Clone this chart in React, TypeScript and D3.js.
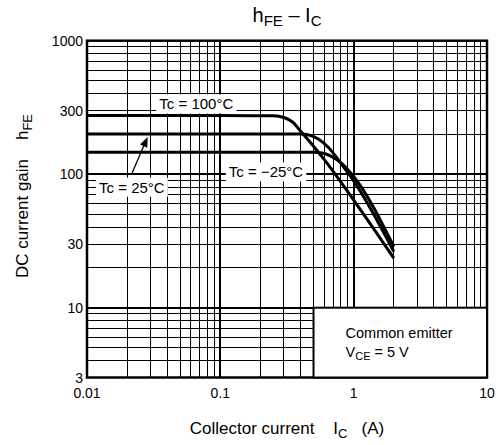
import { useEffect, useRef } from 'react';
import * as d3 from 'd3';

type Pt = [number, number];

// tick values and labels
const xTickValues = [0.01, 0.1, 1, 10];
const xTickLabels = ['0.01', '0.1', '1', '10'];
const yTickValues = [3, 10, 30, 100, 300, 1000];
const yTickLabels = ['3', '10', '30', '100', '300', '1000'];

// hFE curves: [Ic (A), hFE]
const tc100: Pt[] = [
  [0.01, 275], [0.1, 275], [0.25, 274], [0.3, 266], [0.35, 245], [0.4, 210],
  [0.5, 162], [0.6, 129], [1, 64], [2, 23.5],
];
const tc25: Pt[] = [
  [0.01, 200], [0.1, 200], [0.4, 200], [0.47, 196], [0.55, 182], [0.65, 158],
  [0.8, 121], [1, 89], [2, 26.3],
];
const tcM25: Pt[] = [
  [0.01, 146], [0.1, 146], [0.5, 146], [0.58, 144], [0.68, 136], [0.8, 122],
  [1, 96], [2, 28.6],
];

// annotation anchors in data coords
const labelPos: { text: string; at: Pt }[] = [
  { text: 'Tc = 100°C', at: [0.066, 336] },
  { text: 'Tc = 25°C', at: [0.0217, 80] },
  { text: 'Tc = \u221225°C', at: [0.22, 104] },
];
const arrow25: Pt[] = [[0.0215, 99], [0.0285, 190]];

export default function App() {
  const ref = useRef<SVGSVGElement>(null);

  useEffect(() => {
    if (!ref.current) return;
    const W = 500, H = 445;
    const left = 87, right = 487, top = 40.7, bottom = 377.5;
    const font = 'Arial, "Liberation Sans", Helvetica, sans-serif';

    const x = d3.scaleLog().domain([0.01, 10]).range([left, right]);
    const y = d3.scaleLog().domain([3, 1000]).range([bottom, top]);

    const svg = d3.select(ref.current);
    svg.selectAll('*').remove();
    svg.attr('width', W).attr('height', H).attr('viewBox', `0 0 ${W} ${H}`)
      .style('font-family', font);

    svg.append('rect').attr('width', W).attr('height', H).attr('fill', '#fff');

    // grid
    const xGrid: number[] = [];
    for (let d = 0.01; d < 10; d *= 10) for (let k = 1; k < 10; k++) xGrid.push(+(d * k).toPrecision(3));
    const yGrid: number[] = [];
    for (let k = 3; k < 10; k++) yGrid.push(k);
    for (let d = 10; d < 1000; d *= 10) for (let k = 1; k < 10; k++) yGrid.push(d * k);

    const isMajor = (v: number) => Math.abs(Math.log10(v) - Math.round(Math.log10(v))) < 1e-6;
    // snap to the pixel grid so thin lines stay crisp
    const snap = (p: number, major: boolean) => (major ? Math.round(p) : Math.floor(p) + 0.5);

    const grid = svg.append('g');
    grid.selectAll('line.v').data(xGrid.slice(1)).join('line')
      .attr('x1', d => snap(x(d), isMajor(d))).attr('x2', d => snap(x(d), isMajor(d)))
      .attr('y1', top).attr('y2', bottom)
      .attr('stroke', '#000').attr('stroke-width', d => (isMajor(d) ? 2 : 1));
    grid.selectAll('line.h').data(yGrid.slice(1)).join('line')
      .attr('y1', d => snap(y(d), isMajor(d))).attr('y2', d => snap(y(d), isMajor(d)))
      .attr('x1', left).attr('x2', right)
      .attr('stroke', '#000').attr('stroke-width', d => (isMajor(d) ? 2 : 1));

    // frame
    svg.append('rect').attr('x', left).attr('y', top)
      .attr('width', right - left).attr('height', bottom - top)
      .attr('fill', 'none').attr('stroke', '#000').attr('stroke-width', 2.5);

    // legend box
    const lb = svg.append('g');
    lb.append('rect').attr('x', x(0.5)).attr('y', y(10))
      .attr('width', x(10) - x(0.5)).attr('height', y(3) - y(10))
      .attr('fill', '#fff').attr('stroke', '#000').attr('stroke-width', 2);
    lb.append('text').attr('x', x(0.5) + 32).attr('y', y(10) + 30)
      .attr('font-size', 14.5).text('Common emitter');
    const vce = lb.append('text').attr('x', x(0.5) + 32).attr('y', y(10) + 49)
      .attr('font-size', 14.5);
    vce.append('tspan').text('V');
    vce.append('tspan').attr('font-size', 11).attr('dy', 3).text('CE');
    vce.append('tspan').attr('dy', -3).text(' = 5 V');

    // curves
    const line = d3.line<Pt>().x(d => x(d[0])).y(d => y(d[1])).curve(d3.curveMonotoneX);
    svg.selectAll('path.curve').data([tc100, tc25, tcM25]).join('path')
      .attr('class', 'curve')
      .attr('d', d => line(d)!)
      .attr('fill', 'none').attr('stroke', '#000').attr('stroke-width', 3)
      .attr('stroke-linejoin', 'round');

    // annotations with white backing
    labelPos.forEach(l => {
      const g = svg.append('g');
      const t = g.append('text').attr('x', x(l.at[0])).attr('y', y(l.at[1]))
        .attr('text-anchor', 'middle').attr('dominant-baseline', 'central')
        .attr('font-size', 15).text(l.text);
      const bb = (t.node() as SVGTextElement).getBBox();
      g.insert('rect', 'text').attr('x', bb.x - 3).attr('y', bb.y - 1)
        .attr('width', bb.width + 6).attr('height', bb.height + 2).attr('fill', '#fff');
    });

    // arrow to 25°C curve
    const [a0, a1] = arrow25.map(p => [x(p[0]), y(p[1])]);
    const ang = Math.atan2(a1[1] - a0[1], a1[0] - a0[0]);
    svg.append('line').attr('x1', a0[0]).attr('y1', a0[1])
      .attr('x2', a1[0] - Math.cos(ang) * 6).attr('y2', a1[1] - Math.sin(ang) * 6)
      .attr('stroke', '#000').attr('stroke-width', 1.3);
    const hl = 10, hw = 4;
    const bx = a1[0] - Math.cos(ang) * hl, by = a1[1] - Math.sin(ang) * hl;
    svg.append('path')
      .attr('d', `M${a1[0]},${a1[1]}L${bx - Math.sin(ang) * hw},${by + Math.cos(ang) * hw}L${bx + Math.sin(ang) * hw},${by - Math.cos(ang) * hw}Z`)
      .attr('fill', '#000');

    // tick labels
    svg.selectAll('text.xt').data(xTickValues).join('text')
      .attr('x', d => x(d)).attr('y', bottom + 20)
      .attr('text-anchor', 'middle').attr('font-size', 14)
      .text((_, i) => xTickLabels[i]);
    svg.selectAll('text.yt').data(yTickValues).join('text')
      .attr('x', left - 4).attr('y', d => y(d))
      .attr('text-anchor', 'end').attr('dominant-baseline', 'central').attr('font-size', 14)
      .text((_, i) => yTickLabels[i]);

    // title
    const title = svg.append('text').attr('x', (left + right) / 2).attr('y', 22)
      .attr('text-anchor', 'middle').attr('font-size', 20);
    title.append('tspan').text('h');
    title.append('tspan').attr('font-size', 15).attr('dy', 4).text('FE');
    title.append('tspan').attr('dy', -4).text(' \u2013 I');
    title.append('tspan').attr('font-size', 15).attr('dy', 4).text('C');

    // x axis label
    const xl = svg.append('text').attr('x', (left + right) / 2).attr('y', 434)
      .attr('text-anchor', 'middle').attr('font-size', 17);
    xl.append('tspan').text('Collector current\u00a0\u00a0\u00a0 I');
    xl.append('tspan').attr('font-size', 13).attr('dy', 4).text('C');
    xl.append('tspan').attr('dy', -4).text('\u00a0\u00a0\u00a0(A)');

    // y axis label
    const yl = svg.append('text').attr('transform', `translate(28,196) rotate(-90)`)
      .attr('text-anchor', 'middle').attr('font-size', 17);
    yl.append('tspan').text('DC current gain\u00a0\u00a0\u00a0 h');
    yl.append('tspan').attr('font-size', 13).attr('dy', 4).text('FE');
  }, []);

  return <svg ref={ref} style={{ position: 'absolute', left: 0, top: 0 }} />;
}
